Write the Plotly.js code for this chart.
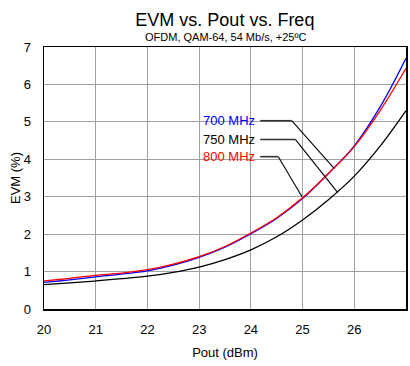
<!DOCTYPE html>
<html>
<head>
<meta charset="utf-8">
<script src="https://cdn.plot.ly/plotly-3.0.1.min.js"></script>
<style>html,body{margin:0;padding:0;background:#fff}#chart{width:410px;height:366px}</style>
</head>
<body>
<div id="chart"></div>
<script>
const pout = [20, 20.5, 21, 21.5, 22, 22.5, 23, 23.5, 24, 24.5, 25, 25.5, 26, 26.5, 27];
const evm700 = [0.71, 0.78, 0.86, 0.93, 1.02, 1.17, 1.38, 1.65, 2.01, 2.42, 2.95, 3.62, 4.36, 5.40, 6.70];
const evm750 = [0.65, 0.70, 0.75, 0.81, 0.88, 0.98, 1.12, 1.32, 1.58, 1.93, 2.38, 2.92, 3.55, 4.35, 5.30];
const evm800 = [0.75, 0.82, 0.90, 0.96, 1.05, 1.20, 1.40, 1.67, 2.03, 2.44, 2.97, 3.62, 4.34, 5.30, 6.43];
const seriesNames = ["700 MHz", "750 MHz", "800 MHz"];
const xTicks = [20, 21, 22, 23, 24, 25, 26, 27];
const yTicks = [0, 1, 2, 3, 4, 5, 6, 7];

const font = "Liberation Sans, Arial, Helvetica, sans-serif";
const colors = ["#0000ff", "#000000", "#ff0000"];

const traces = [
  {x: pout, y: evm750, name: seriesNames[1], mode: "lines", line: {color: colors[1], width: 1.3, shape: "spline"}},
  {x: pout, y: evm700, name: seriesNames[0], mode: "lines", line: {color: colors[0], width: 1.3, shape: "spline"}},
  {x: pout, y: evm800, name: seriesNames[2], mode: "lines", line: {color: colors[2], width: 1.3, shape: "spline"}}
];

// label anchor points (data coords) and leader lines
const labelY = [5.03, 4.53, 4.07];
const labelX = 24.12;
const bendX = [24.79, 24.86, 24.53];
const endPts = [[25.61, 3.76], [25.68, 3.11], [24.99, 3.0]];

const shapes = [];
const annotations = [];
for (let i = 0; i < 3; i++) {
  shapes.push({type: "line", xref: "x", yref: "y", x0: labelX + 0.06, y0: labelY[i], x1: bendX[i], y1: labelY[i], line: {color: "#333", width: 1.6}});
  shapes.push({type: "line", xref: "x", yref: "y", x0: bendX[i], y0: labelY[i], x1: endPts[i][0], y1: endPts[i][1], line: {color: "#000", width: 1.1}});
  annotations.push({xref: "x", yref: "y", x: labelX, y: labelY[i], text: seriesNames[i], showarrow: false, xanchor: "right", yanchor: "middle", font: {family: font, size: 13, color: colors[i]}});
}
annotations.push({xref: "paper", yref: "paper", x: 0.5, y: (309 - 37) / 262, text: "OFDM, QAM-64, 54 Mb/s, +25ºC", showarrow: false, xanchor: "center", yanchor: "middle", font: {family: font, size: 11, color: "#000"}});

const axisCommon = {
  showgrid: true, gridcolor: "#a0a0a0", gridwidth: 1,
  showline: true, linecolor: "#000", linewidth: 1.5, mirror: true,
  ticks: "", zeroline: false,
  tickfont: {family: font, size: 13, color: "#000"}
};

const layout = {
  width: 410, height: 366,
  margin: {l: 44, r: 4, t: 47, b: 57},
  paper_bgcolor: "#fff", plot_bgcolor: "#fff",
  showlegend: false,
  title: {text: "EVM vs. Pout vs. Freq", font: {family: font, size: 18, color: "#000"}, x: 0.5485, xanchor: "center", xref: "container", y: 1 - 20 / 366, yref: "container", yanchor: "middle"},
  xaxis: Object.assign({}, axisCommon, {range: [20, 27], tickvals: xTicks, ticktext: xTicks.map(String), ticklabelstandoff: 8,
    title: {text: "Pout (dBm)", font: {family: font, size: 13, color: "#000"}, standoff: 12}}),
  yaxis: Object.assign({}, axisCommon, {range: [0, 7], tickvals: yTicks, ticktext: yTicks.map(String), ticklabelstandoff: 9,
    title: {text: "EVM (%)", font: {family: font, size: 13, color: "#000"}, standoff: 0}}),
  shapes: shapes,
  annotations: annotations
};

Plotly.newPlot("chart", traces, layout, {displayModeBar: false, staticPlot: true});
</script>
</body>
</html>
